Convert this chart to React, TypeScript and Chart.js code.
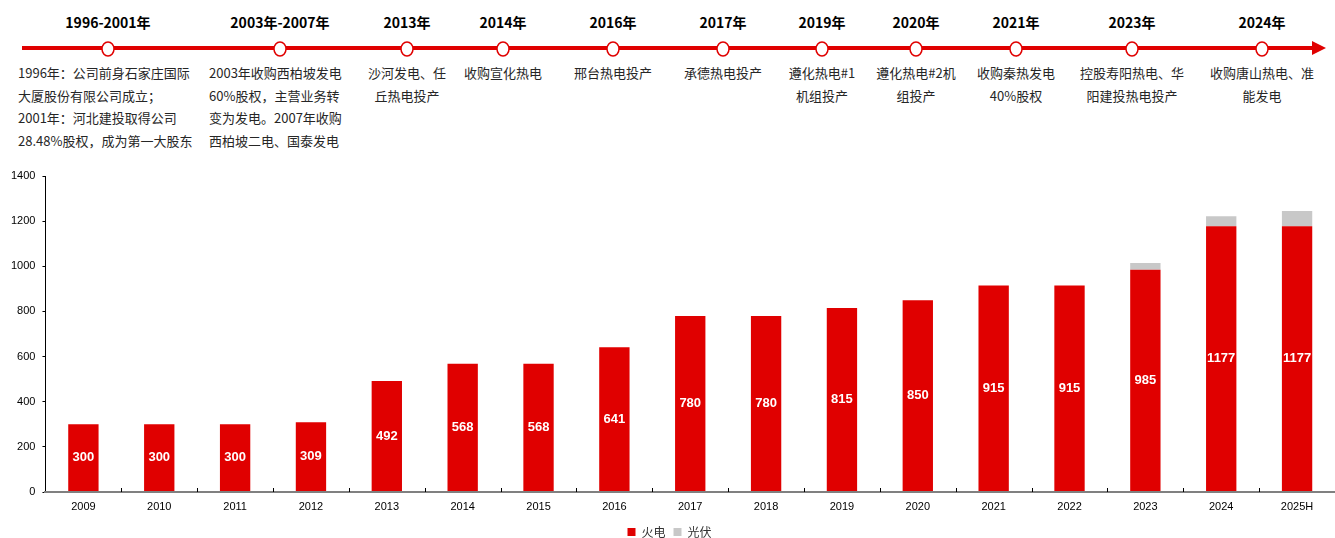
import React, { useEffect, useRef } from "react";
import { Chart, registerables } from "chart.js";

Chart.register(...registerables);

const categories = ["2009", "2010", "2011", "2012", "2013", "2014", "2015", "2016", "2017", "2018", "2019", "2020", "2021", "2022", "2023", "2024", "2025H"];
const thermal = [300, 300, 300, 309, 492, 568, 568, 641, 780, 780, 815, 850, 915, 915, 985, 1177, 1177];
const solar = [null, null, null, null, null, null, null, null, null, null, null, null, null, null, 30, 45, 68];
const seriesNames = ["火电", "光伏"];
const yTicks = [0, 200, 400, 600, 800, 1000, 1200, 1400];

const timelineYears = ["1996-2001年", "2003年-2007年", "2013年", "2014年", "2016年", "2017年", "2019年", "2020年", "2021年", "2023年", "2024年"];
const timelineTexts = [
  ["1996年：公司前身石家庄国际", "大厦股份有限公司成立；", "2001年：河北建投取得公司", "28.48%股权，成为第一大股东"],
  ["2003年收购西柏坡发电", "60%股权，主营业务转", "变为发电。2007年收购", "西柏坡二电、国泰发电"],
  ["沙河发电、任", "丘热电投产"],
  ["收购宣化热电"],
  ["邢台热电投产"],
  ["承德热电投产"],
  ["遵化热电#1", "机组投产"],
  ["遵化热电#2机", "组投产"],
  ["收购秦热发电", "40%股权"],
  ["控股寿阳热电、华", "阳建投热电投产"],
  ["收购唐山热电、准", "能发电"],
];
// layout only
const nodeX = [108, 280, 407, 503, 613, 723, 822, 916, 1016, 1132, 1262];
const leftAligned = [18, 209];

const RED = "#E00000";
const GRAY = "#C8C8C8";
const FONT = "'Liberation Sans', Arial, sans-serif";
const CJK = "'Noto Sans CJK SC', 'Liberation Sans', sans-serif";

const labelPlugin = {
  id: "barLabels",
  afterDatasetsDraw(chart: any) {
    const ctx = chart.ctx;
    const meta = chart.getDatasetMeta(0);
    ctx.save();
    ctx.fillStyle = "#ffffff";
    ctx.font = `bold 13px ${FONT}`;
    ctx.textAlign = "center";
    ctx.textBaseline = "middle";
    meta.data.forEach((el: any, i: number) => {
      const v = thermal[i];
      if (v == null) return;
      ctx.fillText(String(v), el.x, (el.y + el.base) / 2);
    });
    ctx.restore();
  },
};

// inward x-axis tick marks between categories
const innerTicksPlugin = {
  id: "innerTicks",
  afterDraw(chart: any) {
    const ctx = chart.ctx;
    const xs = chart.scales.x;
    const y0 = chart.chartArea.bottom;
    ctx.save();
    ctx.strokeStyle = "#000";
    ctx.lineWidth = 1;
    ctx.beginPath();
    for (let i = 0; i < categories.length - 1; i++) {
      const x = Math.round((xs.getPixelForValue(i) + xs.getPixelForValue(i + 1)) / 2) + 0.5;
      ctx.moveTo(x, y0);
      ctx.lineTo(x, y0 - 4);
    }
    ctx.stroke();
    ctx.restore();
  },
};

export default function App() {
  const ref = useRef<HTMLCanvasElement | null>(null);
  useEffect(() => {
    document.body.style.margin = "0";
    const chart = new Chart(ref.current as HTMLCanvasElement, {
      type: "bar",
      data: {
        labels: categories,
        datasets: [
          { label: seriesNames[0], data: thermal, backgroundColor: RED, categoryPercentage: 0.4, barPercentage: 1 },
          { label: seriesNames[1], data: solar as any, backgroundColor: GRAY, categoryPercentage: 0.4, barPercentage: 1 },
        ],
      },
      options: {
        animation: false,
        responsive: true,
        maintainAspectRatio: false,
        layout: { padding: { top: 16, right: 0, left: 4, bottom: 0 } },
        plugins: {
          legend: {
            position: "bottom",
            labels: {
              boxWidth: 8,
              boxHeight: 8,
              padding: 8,
              color: "#333",
              font: { size: 12, family: CJK },
            },
          },
          tooltip: { enabled: false },
        },
        scales: {
          x: {
            stacked: true,
            border: { color: "#808080", width: 2, z: 1 },
            grid: { drawOnChartArea: false, drawTicks: false },
            ticks: { color: "#000", font: { size: 11, family: FONT }, padding: 8 },
            afterFit: (s: any) => {
              s.height = 26;
            },
          },
          y: {
            stacked: true,
            min: 0,
            max: 1400,
            afterBuildTicks: (axis: any) => {
              axis.ticks = yTicks.map((v) => ({ value: v }));
            },
            border: { color: "#000", width: 1 },
            grid: { drawOnChartArea: false, tickLength: 3, color: "#000" },
            ticks: { color: "#000", font: { size: 11, family: FONT }, padding: 7, callback: (v: any) => String(v) },
          },
        },
      },
      plugins: [labelPlugin, innerTicksPlugin],
    });
    return () => chart.destroy();
  }, []);

  return (
    <div style={{ position: "fixed", left: 0, top: 0, width: 1335, height: 538, background: "#fff", overflow: "hidden" }}>
      <svg style={{ position: "absolute", left: 0, top: 0 }} width={1335} height={70}>
        <line x1={22} y1={48} x2={1314} y2={48} stroke={RED} strokeWidth={4} />
        <polygon points="1312,41 1326,48 1312,55" fill={RED} />
        {nodeX.map((x, i) => (
          <ellipse key={i} cx={x} cy={49} rx={6} ry={7} fill="#fff" stroke={RED} strokeWidth={1.5} />
        ))}
      </svg>
      {timelineYears.map((y, i) => (
        <div
          key={"y" + i}
          style={{
            position: "absolute",
            left: nodeX[i] - 80,
            width: 160,
            top: 12,
            textAlign: "center",
            fontFamily: CJK,
            fontWeight: "bold",
            fontSize: 14,
            lineHeight: "20px",
            color: "#000",
          }}
        >
          {y}
        </div>
      ))}
      {timelineTexts.map((lines, i) => {
        const left = i < leftAligned.length;
        return (
          <div
            key={"t" + i}
            style={{
              position: "absolute",
              left: left ? leftAligned[i] : nodeX[i] - 80,
              width: left ? 190 : 160,
              top: 62,
              textAlign: left ? "left" : "center",
              fontFamily: CJK,
              fontSize: 13,
              lineHeight: "22.5px",
              color: "#262626",
              whiteSpace: "nowrap",
            }}
          >
            {lines.map((l, j) => (
              <div key={j}>{l}</div>
            ))}
          </div>
        );
      })}
      <div style={{ position: "absolute", left: 0, top: 160, width: 1335, height: 388 }}>
        <canvas ref={ref} />
      </div>
    </div>
  );
}
